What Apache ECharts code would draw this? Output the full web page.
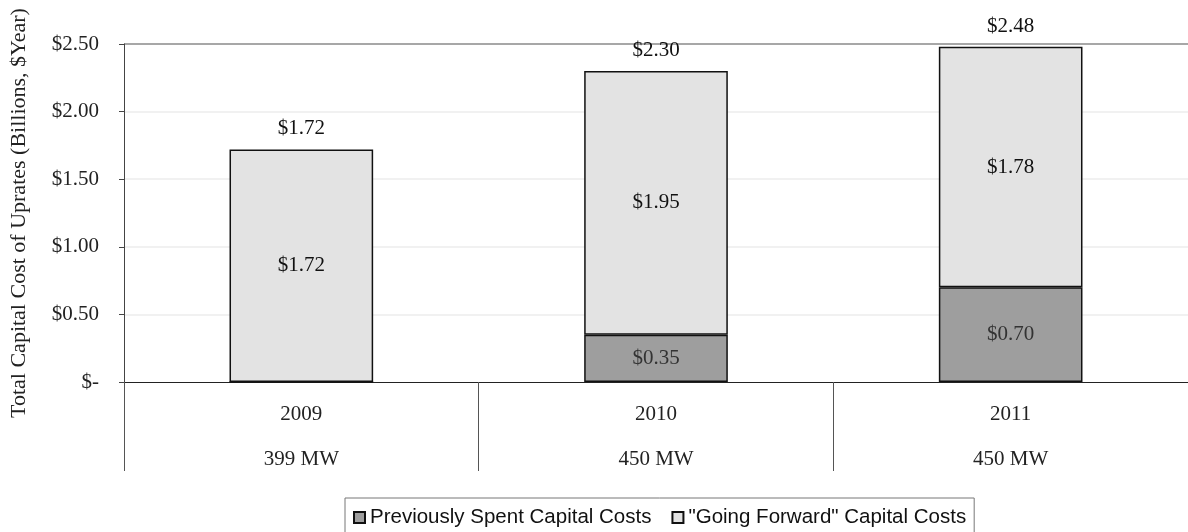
<!DOCTYPE html>
<html>
<head>
<meta charset="utf-8">
<script src="https://cdn.jsdelivr.net/npm/echarts@6/dist/echarts.min.js"></script>
<style>
  html, body { margin: 0; padding: 0; background: #fff; }
  #chart { width: 1188px; height: 532px; }
</style>
</head>
<body>
<div id="chart"></div>
<script>
// Uprate capital cost by year (billions of dollars)
const years = ['2009', '2010', '2011'];
const capacity = ['399 MW', '450 MW', '450 MW'];
const previouslySpent = [0, 0.35, 0.70];
const goingForward = [1.72, 1.95, 1.78];
const yTicks = [0, 0.5, 1.0, 1.5, 2.0, 2.5];

const totals = years.map((_, i) => +(previouslySpent[i] + goingForward[i]).toFixed(2));
const money = v => v === 0 ? '$-' : '$' + v.toFixed(2);

const serif = 'Liberation Serif';
const chart = echarts.init(document.getElementById('chart'));

chart.setOption({
  animation: false,
  backgroundColor: '#fff',
  grid: { left: 122, right: 0, top: 44, bottom: 150, containLabel: false },
  legend: {
    left: 345,
    top: 498,
    itemWidth: 11,
    itemHeight: 11,
    itemGap: 20,
    padding: [9, 8, 9, 8],
    borderColor: '#777',
    borderWidth: 1,
    icon: 'rect',
    textStyle: { fontFamily: 'Liberation Sans', fontSize: 20.5, color: '#111' },
    data: ['Previously Spent Capital Costs', '"Going Forward" Capital Costs']
  },
  xAxis: {
    type: 'category',
    data: years,
    boundaryGap: true,
    axisLine: { lineStyle: { color: '#222', width: 1.2 } },
    axisTick: { show: true, length: 89, lineStyle: { color: '#555', width: 1 } },
    axisLabel: {
      margin: 10,
      fontFamily: serif,
      fontSize: 21,
      color: '#222',
      lineHeight: 45,
      formatter: (v, i) => v + '\n' + capacity[i]
    }
  },
  yAxis: {
    type: 'value',
    min: yTicks[0],
    max: yTicks[yTicks.length - 1],
    interval: yTicks[1] - yTicks[0],
    name: 'Total Capital Cost of Uprates (Billions, $Year)',
    nameLocation: 'middle',
    nameGap: 94,
    nameRotate: 90,
    nameTextStyle: { fontFamily: serif, fontSize: 22, color: '#222' },
    axisLine: { show: true, lineStyle: { color: '#444', width: 1 } },
    axisTick: { show: true, length: 5, lineStyle: { color: '#444' } },
    axisLabel: {
      margin: 25,
      fontFamily: serif,
      fontSize: 21,
      color: '#222',
      formatter: v => money(v)
    },
    splitLine: {
      show: true,
      lineStyle: {
        color: ['transparent', '#ececec', '#ececec', '#ececec', '#ececec', '#8a8a8a'],
        width: 1.5
      }
    }
  },
  series: [
    {
      name: 'Previously Spent Capital Costs',
      type: 'bar',
      stack: 'cost',
      barWidth: '40.5%',
      data: previouslySpent,
      itemStyle: { color: '#9e9e9e', borderColor: '#111', borderWidth: 1.5 },
      label: {
        show: true,
        position: 'inside',
        fontFamily: serif,
        fontSize: 21,
        color: '#333',
        formatter: p => p.value > 0 ? money(p.value) : ''
      }
    },
    {
      name: '"Going Forward" Capital Costs',
      type: 'bar',
      stack: 'cost',
      data: goingForward,
      itemStyle: { color: '#e3e3e3', borderColor: '#111', borderWidth: 1.5 },
      label: {
        show: true,
        position: 'inside',
        fontFamily: serif,
        fontSize: 21,
        color: '#111',
        formatter: p => money(p.value)
      }
    },
    {
      // zero-height cap carrying the total above each stack
      name: 'Total',
      type: 'bar',
      stack: 'cost',
      data: totals.map(() => 0),
      itemStyle: { color: 'transparent' },
      label: {
        show: true,
        position: 'top',
        distance: 10,
        fontFamily: serif,
        fontSize: 21,
        color: '#111',
        formatter: p => money(totals[p.dataIndex])
      },
      tooltip: { show: false }
    }
  ]
});
</script>
</body>
</html>
